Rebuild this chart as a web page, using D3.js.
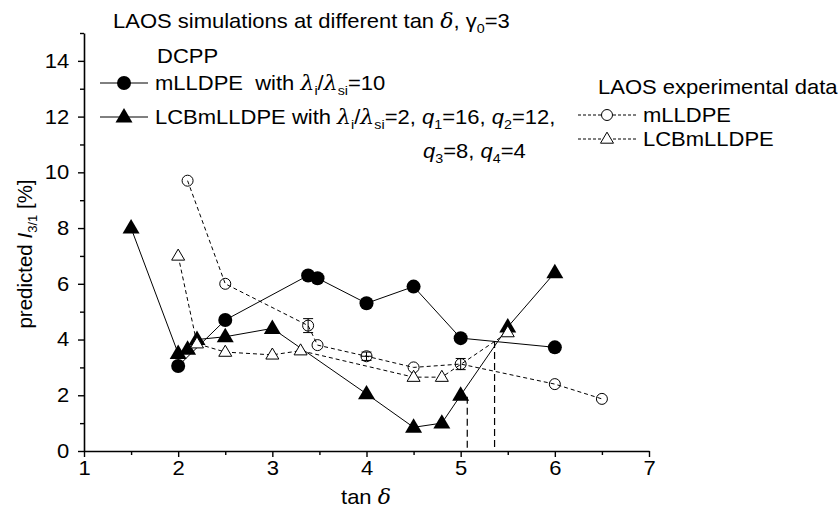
<!DOCTYPE html>
<meta charset="utf-8">
<style>
  body { margin: 0; background: #fff; }
  svg { font-family: "Liberation Sans", Arial, sans-serif; }
  .greek { font-family: "DejaVu Serif", "Liberation Serif", serif; font-style: italic; }
</style>
<svg width="838" height="518"></svg>
<script src="https://d3js.org/d3.v7.min.js"></script>
<script>

// DCPP simulations
var simMX = [2.0, 2.5, 3.38, 3.48, 4.0, 4.5, 5.0, 6.0],
    simMY = [3.05, 4.7, 6.3, 6.2, 5.3, 5.9, 4.05, 3.72];
var simLX = [1.5, 2.0, 2.1, 2.2, 2.5, 3.0, 4.0, 4.5, 4.8, 5.0, 5.5, 6.0],
    simLY = [8.0, 3.5, 3.65, 4.0, 4.1, 4.4, 2.05, 0.85, 1.0, 2.0, 4.45, 6.4];

// LAOS experimental data
var expMX = [2.1, 2.5, 3.38, 3.48, 4.0, 4.5, 5.0, 6.0, 6.5],
    expMY = [9.7, 6.0, 4.5, 3.8, 3.4, 3.0, 3.12, 2.4, 1.87],
    expMErr = [0, 0, 0.25, 0, 0.15, 0, 0.2, 0, 0];
var expLX = [2.0, 2.2, 2.5, 3.0, 3.3, 4.5, 4.8, 5.5],
    expLY = [7.0, 3.85, 3.55, 3.45, 3.6, 2.65, 2.65, 4.25];

// vertical guide lines
var guideX = [5.07, 5.36],
    guideTop = [1.95, 3.95];

var xTicks = [1, 2, 3, 4, 5, 6, 7],
    xMinor = [1.5, 2.5, 3.5, 4.5, 5.5, 6.5],
    yTicks = [0, 2, 4, 6, 8, 10, 12, 14],
    yMinor = [1, 3, 5, 7, 9, 11, 13, 15];

var svg = d3.select("svg");
var fs = 20, sx = 1.1; // the source picture is stretched a bit sideways

var x = d3.scaleLinear().domain([1, 7]).range([84, 649]),
    y = d3.scaleLinear().domain([0, 15]).range([451, 33]);

function zip(xs, ys) { return xs.map(function(v, i) { return [v, ys[i]]; }); }

var line = d3.line().x(function(d) { return x(d[0]); }).y(function(d) { return y(d[1]); });

function tri(s) {
  var h = s * 0.85;
  return "M0," + (-h * 0.62) + "L" + (s / 2) + "," + (h * 0.38) + "L" + (-s / 2) + "," + (h * 0.38) + "Z";
}

// axes
var gx = svg.append("g").attr("transform", "translate(0," + y(0) + ")");
gx.call(d3.axisBottom(x).tickValues(xTicks).tickFormat(d3.format("d")).tickSize(6).tickSizeOuter(0).tickPadding(4));
gx.append("g").call(d3.axisBottom(x).tickValues(xMinor).tickSize(4).tickFormat(""))
  .select(".domain").remove();

var gy = svg.append("g").attr("transform", "translate(" + x(1) + ",0)");
gy.call(d3.axisLeft(y).tickValues(yTicks).tickSize(6).tickSizeOuter(0).tickPadding(7.5));
gy.append("g").call(d3.axisLeft(y).tickValues(yMinor).tickSize(4).tickFormat(""))
  .select(".domain").remove();

svg.selectAll(".domain").attr("stroke-width", 1.6);
svg.selectAll(".tick line").attr("stroke-width", 1.4);
svg.selectAll(".tick text").attr("font-size", fs).attr("font-family", "Liberation Sans, Arial, sans-serif")
  .attr("fill", "#000").attr("transform", "scale(" + sx + ",1)");

// guide lines
svg.append("g").selectAll("line")
  .data(zip(guideX, guideTop))
  .enter().append("line")
    .attr("x1", function(d) { return x(d[0]); })
    .attr("x2", function(d) { return x(d[0]); })
    .attr("y1", function(d) { return y(d[1]); })
    .attr("y2", y(0))
    .attr("stroke", "#000").attr("stroke-width", 1.2).attr("stroke-dasharray", "7,4");

// simulation lines
svg.append("path").datum(zip(simMX, simMY)).attr("d", line)
  .attr("fill", "none").attr("stroke", "#000").attr("stroke-width", 1);
svg.append("path").datum(zip(simLX, simLY)).attr("d", line)
  .attr("fill", "none").attr("stroke", "#000").attr("stroke-width", 1);

// experimental lines
svg.append("path").datum(zip(expMX, expMY)).attr("d", line)
  .attr("fill", "none").attr("stroke", "#000").attr("stroke-width", 1).attr("stroke-dasharray", "4,3");
svg.append("path").datum(zip(expLX, expLY)).attr("d", line)
  .attr("fill", "none").attr("stroke", "#000").attr("stroke-width", 1).attr("stroke-dasharray", "4,3");

// simulation markers
svg.append("g").selectAll("circle")
  .data(zip(simMX, simMY))
  .enter().append("circle")
    .attr("cx", function(d) { return x(d[0]); })
    .attr("cy", function(d) { return y(d[1]); })
    .attr("r", 7).attr("fill", "#000");
svg.append("g").selectAll("path")
  .data(zip(simLX, simLY))
  .enter().append("path")
    .attr("transform", function(d) { return "translate(" + x(d[0]) + "," + y(d[1]) + ")"; })
    .attr("d", tri(17)).attr("fill", "#000");

// experimental markers with error bars
var errData = expMX.map(function(v, i) { return [v, expMY[i], expMErr[i]]; }).filter(function(d) { return d[2] > 0; });
var eb = svg.append("g").selectAll("g")
  .data(errData)
  .enter().append("g").attr("stroke", "#000").attr("stroke-width", 1);
eb.append("line")
  .attr("x1", function(d) { return x(d[0]); }).attr("x2", function(d) { return x(d[0]); })
  .attr("y1", function(d) { return y(d[1] - d[2]); }).attr("y2", function(d) { return y(d[1] + d[2]); });
[-1, 1].forEach(function(s) {
  eb.append("line")
    .attr("x1", function(d) { return x(d[0]) - 5; }).attr("x2", function(d) { return x(d[0]) + 5; })
    .attr("y1", function(d) { return y(d[1] + s * d[2]); }).attr("y2", function(d) { return y(d[1] + s * d[2]); });
});

svg.append("g").selectAll("circle")
  .data(zip(expMX, expMY))
  .enter().append("circle")
    .attr("cx", function(d) { return x(d[0]); })
    .attr("cy", function(d) { return y(d[1]); })
    .attr("r", 5.5).attr("fill", "none").attr("stroke", "#000").attr("stroke-width", 1);
svg.append("g").selectAll("path")
  .data(zip(expLX, expLY))
  .enter().append("path")
    .attr("transform", function(d) { return "translate(" + x(d[0]) + "," + y(d[1]) + ")"; })
    .attr("d", tri(13)).attr("fill", "#fff").attr("stroke", "#000").attr("stroke-width", 1);

// the small error bar at 4.0 sits inside the circle and shows as a cross
svg.append("g").selectAll("line")
  .data(errData.filter(function(d) { return d[2] < 0.2; }))
  .enter().append("line")
    .attr("x1", function(d) { return x(d[0]) - 5.5; }).attr("x2", function(d) { return x(d[0]) + 5.5; })
    .attr("y1", function(d) { return y(d[1]); }).attr("y2", function(d) { return y(d[1]); })
    .attr("stroke", "#000").attr("stroke-width", 1);

// text helpers
function label(px, py, anchor) {
  return svg.append("g").attr("transform", "translate(" + px + "," + py + ") scale(" + sx + ",1)")
    .append("text").attr("font-size", fs).attr("text-anchor", anchor || "start");
}
function rich(sel, parts) {
  parts.forEach(function(p) {
    var t = sel.append("tspan").text(p.t);
    if (p.g) t.attr("class", "greek");
    if (p.i) t.attr("font-style", "italic");
    if (p.sub) t.attr("font-size", 13).attr("dy", 5);
    if (p.up) t.attr("dy", -5);
  });
  return sel;
}

rich(label(113, 28), [
  {t: "LAOS simulations at different tan "}, {t: "\u03b4", g: 1}, {t: ", \u03b3"}, {t: "0", sub: 1}, {t: "=3", up: 1}
]);

label(157, 63).text("DCPP");

// legend: simulations
var legSim = [
  [{t: "mLLDPE\u00a0 with "}, {t: "\u03bb", g: 1}, {t: "i", sub: 1}, {t: "/", up: 1}, {t: "\u03bb", g: 1}, {t: "si", sub: 1}, {t: "=10", up: 1}],
  [{t: "LCBmLLDPE with "}, {t: "\u03bb", g: 1}, {t: "i", sub: 1}, {t: "/", up: 1}, {t: "\u03bb", g: 1}, {t: "si", sub: 1}, {t: "=2, ", up: 1},
   {t: "q", i: 1}, {t: "1", sub: 1}, {t: "=16, ", up: 1}, {t: "q", i: 1}, {t: "2", sub: 1}, {t: "=12,", up: 1}]
];
var legY = [83, 117];
legY.forEach(function(ly, i) {
  svg.append("line").attr("x1", 100).attr("x2", 148).attr("y1", ly).attr("y2", ly).attr("stroke", "#000").attr("stroke-width", 1);
  if (i === 0) svg.append("circle").attr("cx", 124).attr("cy", ly).attr("r", 7).attr("fill", "#000");
  else svg.append("path").attr("transform", "translate(124," + ly + ")").attr("d", tri(17)).attr("fill", "#000");
  rich(label(155, ly + 7), legSim[i]);
});
rich(label(423, 158), [
  {t: "q", i: 1}, {t: "3", sub: 1}, {t: "=8, ", up: 1}, {t: "q", i: 1}, {t: "4", sub: 1}, {t: "=4", up: 1}
]);

// legend: experimental
label(598, 94).text("LAOS experimental data");
var legExp = ["mLLDPE", "LCBmLLDPE"], legExpY = [115, 139];
legExp.forEach(function(name, i) {
  var ly = legExpY[i];
  svg.append("line").attr("x1", 578).attr("x2", 636).attr("y1", ly).attr("y2", ly)
    .attr("stroke", "#000").attr("stroke-width", 1).attr("stroke-dasharray", "3,2");
  if (i === 0) svg.append("circle").attr("cx", 607).attr("cy", ly).attr("r", 5.5).attr("fill", "#fff").attr("stroke", "#000");
  else svg.append("path").attr("transform", "translate(607," + ly + ")").attr("d", tri(13)).attr("fill", "#fff").attr("stroke", "#000");
  label(643, ly + 7).text(name);
});

// axis titles
rich(label(366, 504, "middle"), [{t: "tan "}, {t: "\u03b4", g: 1}]);
rich(svg.append("text").attr("text-anchor", "middle").attr("font-size", 20.5)
  .attr("transform", "translate(32,254) rotate(-90)"), [
  {t: "predicted "}, {t: "I", i: 1}, {t: "3/1", sub: 1}, {t: " [%]", up: 1}
]);

</script>
